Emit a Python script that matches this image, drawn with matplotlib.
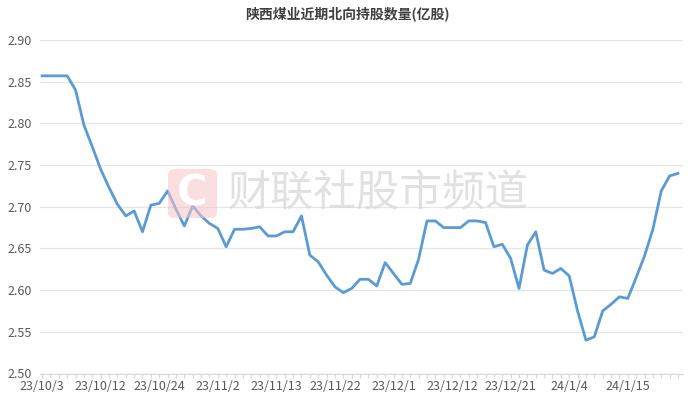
import matplotlib
matplotlib.use("Agg")
import matplotlib.pyplot as plt
from matplotlib.patches import FancyBboxPatch

plt.rcParams['font.family'] = ['Noto Sans CJK SC', 'DejaVu Sans']

title = "陕西煤业近期北向持股数量(亿股)"
tick_labels = ["23/10/3", "23/10/12", "23/10/24", "23/11/2", "23/11/13", "23/11/22",
               "23/12/1", "23/12/12", "23/12/21", "24/1/4", "24/1/15"]
label_step = 7
values = [
    2.857, 2.857, 2.857, 2.857, 2.840, 2.798, 2.772, 2.745, 2.723, 2.703,
    2.689, 2.695, 2.670, 2.702, 2.704, 2.719, 2.697, 2.677, 2.701, 2.689,
    2.680, 2.674, 2.652, 2.673, 2.673, 2.674, 2.676, 2.665, 2.665, 2.670,
    2.670, 2.689, 2.642, 2.634, 2.618, 2.604, 2.597, 2.602, 2.613, 2.613,
    2.605, 2.633, 2.620, 2.607, 2.608, 2.637, 2.683, 2.683, 2.675, 2.675,
    2.675, 2.683, 2.683, 2.681, 2.652, 2.655, 2.638, 2.602, 2.654, 2.670,
    2.624, 2.620, 2.626, 2.617, 2.575, 2.540, 2.544, 2.575, 2.583, 2.592,
    2.590, 2.615, 2.641, 2.673, 2.719, 2.737, 2.740,
]
y_ticks = [2.50, 2.55, 2.60, 2.65, 2.70, 2.75, 2.80, 2.85, 2.90]

W, H = 692, 404
fig = plt.figure(figsize=(W / 100, H / 100), dpi=100)
ax = fig.add_axes([40 / W, 1 - 373.5 / H, (683 - 40) / W, (373.5 - 40) / H])

x = list(range(len(values)))

# watermark (figure coords)
logo = FancyBboxPatch((168 / W, 1 - 218 / H), 49 / W, 49 / H,
                      boxstyle="round,pad=0,rounding_size=0.012",
                      transform=fig.transFigure, facecolor="#f6c4c8", alpha=0.55,
                      edgecolor="none", zorder=0)
fig.patches.append(logo)
fig.text(192.5 / W, 1 - 194 / H, "C", transform=fig.transFigure, ha="center", va="center",
         fontsize=30, fontweight="bold", color="white", family="DejaVu Sans", zorder=1)
fig.text(378 / W, 1 - 194 / H, "财联社股市频道", ha="center", va="center",
         fontsize=31, color="#d8d8d8", alpha=0.75, zorder=1)

ax.set_facecolor("none")
ax.plot(x, values, color="#5B9BD5", linewidth=2.0, solid_joinstyle="round", zorder=3)

ax.set_ylim(2.50, 2.90)
ax.set_xlim(-0.25, len(values) - 1 + 0.6)
ax.set_yticks(y_ticks)
ax.set_yticklabels([f"{v:.2f}" for v in y_ticks])
ax.grid(axis="y", color="#e6e6e6", linewidth=0.9, zorder=0)
ax.set_axisbelow(True)

ax.set_xticks(x, minor=True)
ax.set_xticks([i * label_step for i in range(len(tick_labels))])
ax.set_xticklabels(tick_labels)
ax.tick_params(axis="x", which="both", length=3, color="#d9d9d9", width=0.8,
               labelsize=9, labelcolor="#595959", pad=2)
ax.tick_params(axis="x", which="minor", labelbottom=False)
ax.tick_params(axis="y", length=0, labelsize=9, labelcolor="#595959", pad=6)
for s in ["top", "right", "left"]:
    ax.spines[s].set_visible(False)
ax.spines["bottom"].set_color("#d9d9d9")
ax.spines["bottom"].set_linewidth(0.9)

fig.text(347 / W, 1 - 14 / H, title, ha="center", va="center", fontsize=10,
         fontweight="bold", color="#404040")

fig.savefig("out.png", dpi=100)
